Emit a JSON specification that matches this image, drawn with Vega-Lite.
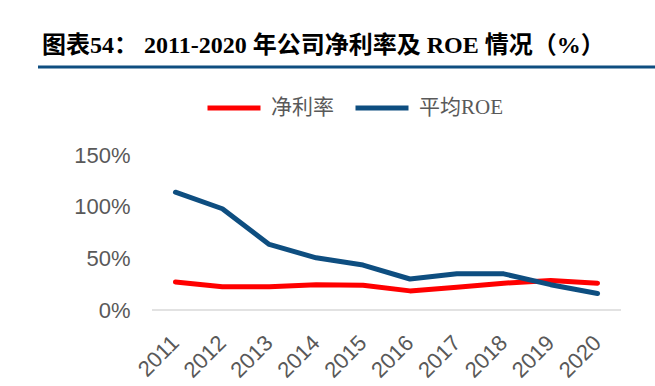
{
  "$schema": "https://vega.github.io/schema/vega-lite/v6.json",
  "autosize": "none",
  "width": 617,
  "height": 243,
  "padding": {"left": 38, "top": 67, "right": 0, "bottom": 76},
  "background": "white",
  "title": {
    "text": "图表54：  2011-2020 年公司净利率及 ROE 情况（%）",
    "anchor": "start",
    "frame": "group",
    "orient": "top",
    "baseline": "alphabetic",
    "offset": -11,
    "dx": 4,
    "font": "Liberation Serif, Noto Sans CJK SC",
    "fontSize": 24,
    "fontWeight": "bold",
    "color": "#000000"
  },
  "config": {
    "view": {"stroke": null},
    "axis": {"labelFont": "Liberation Sans", "labelFontSize": 22, "labelColor": "#595959"}
  },
  "datasets": {
    "series": [
      {"year": "2011", "series": "净利率", "value": 27},
      {"year": "2012", "series": "净利率", "value": 22.5},
      {"year": "2013", "series": "净利率", "value": 22.5},
      {"year": "2014", "series": "净利率", "value": 24.5},
      {"year": "2015", "series": "净利率", "value": 24},
      {"year": "2016", "series": "净利率", "value": 18.5},
      {"year": "2017", "series": "净利率", "value": 22},
      {"year": "2018", "series": "净利率", "value": 26},
      {"year": "2019", "series": "净利率", "value": 28.5},
      {"year": "2020", "series": "净利率", "value": 26},
      {"year": "2011", "series": "平均ROE", "value": 114},
      {"year": "2012", "series": "平均ROE", "value": 98},
      {"year": "2013", "series": "平均ROE", "value": 63.5},
      {"year": "2014", "series": "平均ROE", "value": 50.5},
      {"year": "2015", "series": "平均ROE", "value": 43.5},
      {"year": "2016", "series": "平均ROE", "value": 30},
      {"year": "2017", "series": "平均ROE", "value": 35},
      {"year": "2018", "series": "平均ROE", "value": 35},
      {"year": "2019", "series": "平均ROE", "value": 24.5},
      {"year": "2020", "series": "平均ROE", "value": 16}
    ],
    "base": [{"year": "2011", "year2": "2020", "value": 0}],
    "headerRule": [{"value": 235.2}]
  },
  "layer": [
    {
      "data": {"name": "headerRule"},
      "mark": {"type": "rule", "color": "#0e4e80", "strokeWidth": 3},
      "encoding": {
        "y": {"field": "value", "type": "quantitative"}
      }
    },
    {
      "data": {"name": "base"},
      "mark": {"type": "rule", "color": "#d9d9d9", "strokeWidth": 1.5},
      "encoding": {
        "x": {"field": "year", "type": "nominal", "bandPosition": 0},
        "x2": {"field": "year2", "bandPosition": 1},
        "y": {"field": "value", "type": "quantitative"}
      }
    },
    {
      "data": {"name": "series"},
      "mark": {"type": "line", "strokeWidth": 5, "strokeCap": "round", "strokeJoin": "round"},
      "encoding": {
        "x": {
          "field": "year",
          "type": "nominal",
          "bandPosition": 0.5,
          "scale": {"type": "band", "paddingInner": 0, "paddingOuter": 0, "range": [114, 583]},
          "axis": {
            "title": null,
            "domain": false,
            "ticks": false,
            "bandPosition": 0.5,
            "labelAngle": -45,
            "labelAlign": "right",
            "labelBaseline": "middle",
            "labelPadding": 29
          }
        },
        "y": {
          "field": "value",
          "type": "quantitative",
          "scale": {"domain": [0, 235.2], "nice": false, "zero": true},
          "axis": {
            "title": null,
            "values": [0, 50, 100, 150],
            "labelExpr": "datum.value + '%'",
            "domain": false,
            "ticks": false,
            "grid": false,
            "offset": -97,
            "labelPadding": 5
          }
        },
        "color": {
          "field": "series",
          "type": "nominal",
          "scale": {"domain": ["净利率", "平均ROE"], "range": ["#ff0000", "#0e4e80"]},
          "legend": {
            "title": null,
            "orient": "none",
            "direction": "horizontal",
            "legendX": 167,
            "legendY": 12,
            "padding": 0,
            "symbolType": "stroke",
            "symbolSize": 2809,
            "symbolStrokeWidth": 5,
            "labelFont": "Liberation Serif, Noto Sans CJK SC",
            "labelFontSize": 21,
            "labelColor": "#595959",
            "labelOffset": 8,
            "columnPadding": 11
          }
        }
      }
    }
  ]
}
